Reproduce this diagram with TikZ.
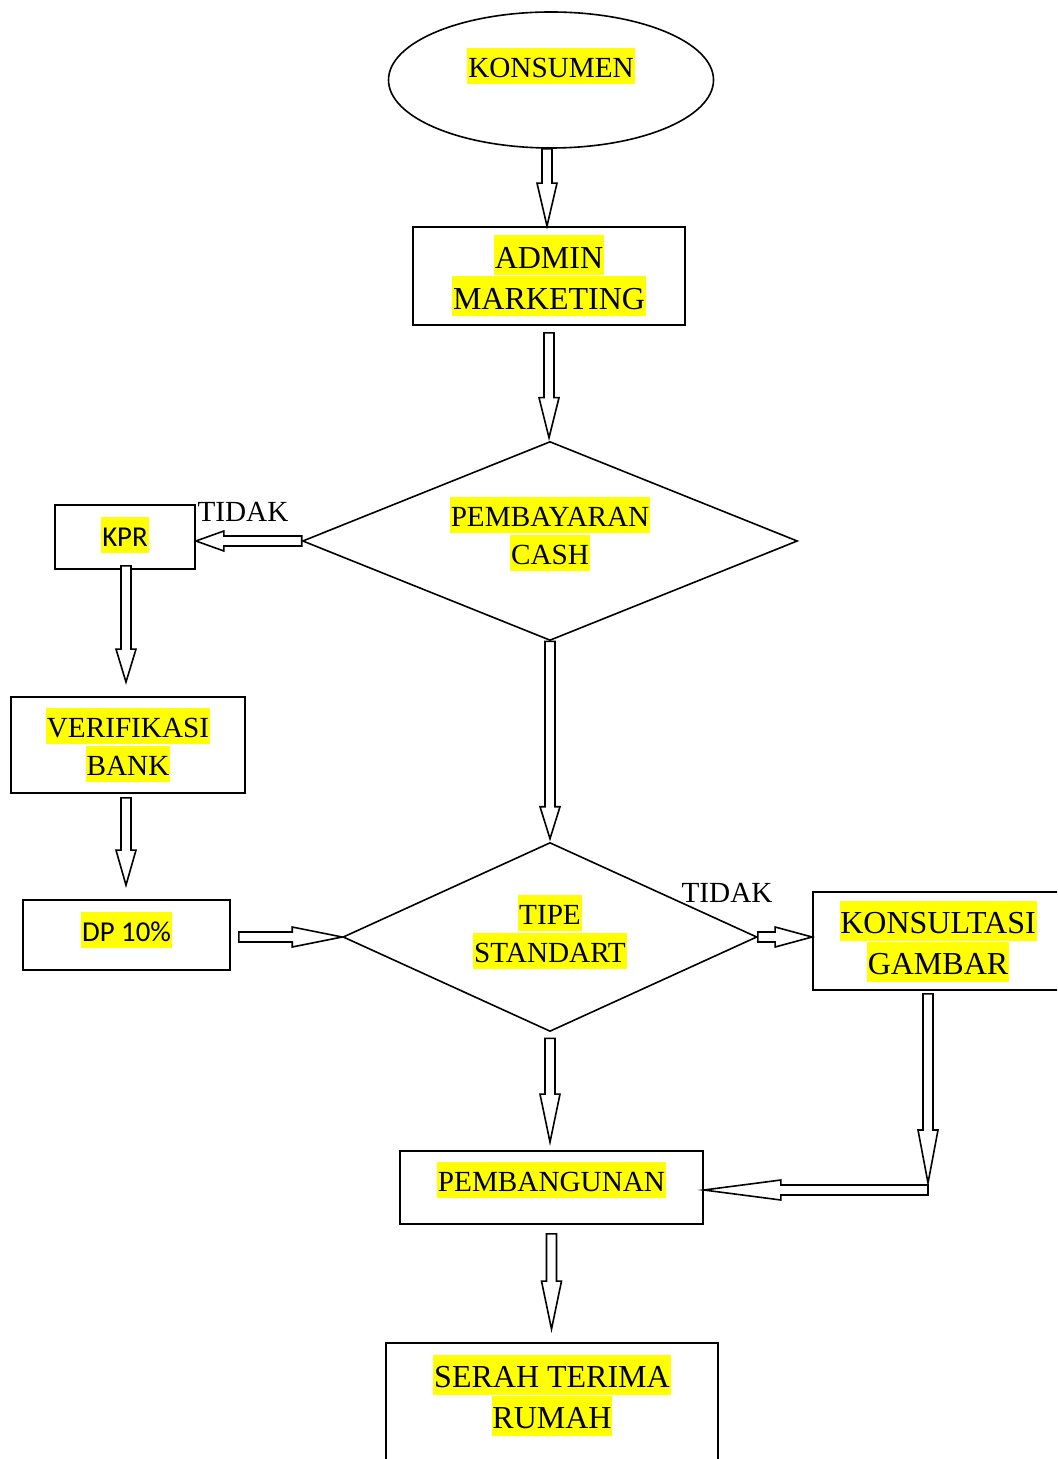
\documentclass[tikz,border=0pt]{standalone}
\usepackage{fontspec}
\setmainfont{Liberation Serif}
\newfontfamily\calibrifont{Carlito}
\usetikzlibrary{calc,shapes.geometric}
\definecolor{HiliteClr}{rgb}{1,1,0}
\setlength{\fboxsep}{0.4pt}
\newcommand{\hilite}[1]{\colorbox{HiliteClr}{\vrule width0pt height1em depth0.2em #1}}
\def\shaftw{2.5pt}
\def\headw{5pt}
\newcommand{\hollowarrow}[3][20pt]{%
  \coordinate (ha-s) at (#2);
  \coordinate (ha-e) at (#3);
  \coordinate (ha-q) at ($(ha-e)!#1!(ha-s)$);
  \draw[blockarrow] ($(ha-s)!\shaftw!90:(ha-e)$) -- ($(ha-q)!\shaftw!90:(ha-e)$)
    -- ($(ha-q)!\headw!90:(ha-e)$) -- (ha-e) -- ($(ha-q)!\headw!-90:(ha-e)$)
    -- ($(ha-q)!\shaftw!-90:(ha-e)$) -- ($(ha-s)!\shaftw!-90:(ha-e)$) -- cycle;}

\begin{document}
\begin{tikzpicture}[x=0.5pt,y=-0.5pt,
  startshape/.style={ellipse,draw,line width=0.8pt,inner sep=0pt},
  procbox/.style={rectangle,draw,line width=0.9pt,inner sep=0pt,align=center},
  decision/.style={diamond,draw,line width=0.8pt,inner sep=0pt,align=center},
  bigtxt/.style={font=\fontsize{16}{20.5}\selectfont},
  midtxt/.style={font=\fontsize{14.6}{19}\selectfont},
  sanstxt/.style={font=\calibrifont\fontsize{14.4}{18}\selectfont},
  blockarrow/.style={draw,line width=0.8pt,fill=white,line join=miter}]
\useasboundingbox (0,0) rectangle (1057,1459);
\clip (0,0) rectangle (1057,1459);

\node[startshape,midtxt,minimum width=162.5pt,minimum height=68pt,text depth=17.3pt] (kons) at (551,80) {\hilite{KONSUMEN}};
\node[procbox,bigtxt,minimum width=136pt,minimum height=49pt] (admin) at (549,276) {\hilite{ADMIN}\\\hilite{MARKETING}};
\node[decision,midtxt,aspect=2.5,minimum width=247.5pt,minimum height=99.5pt,text depth=10.3pt] (pay) at (550,541) {\hilite{PEMBAYARAN}\\\hilite{CASH}};
\node[procbox,sanstxt,minimum width=70pt,minimum height=32pt,text depth=5pt] (kpr) at (125,537) {\hilite{KPR}};
\node[procbox,midtxt,minimum width=117pt,minimum height=48pt] (verif) at (128,745) {\hilite{VERIFIKASI}\\\hilite{BANK}};
\node[procbox,sanstxt,minimum width=103.5pt,minimum height=35pt,text depth=8.3pt] (dp) at (126.5,935) {\hilite{DP 10\%}};
\node[decision,midtxt,aspect=2.2,minimum width=207pt,minimum height=94.5pt,text depth=8.3pt] (tipe) at (550,937) {\hilite{TIPE}\\\hilite{STANDART}};
\node[procbox,bigtxt,minimum width=125pt,minimum height=49pt] (konsul) at (938,941) {\hilite{KONSULTASI}\\\hilite{GAMBAR}};
\node[procbox,midtxt,minimum width=151.5pt,minimum height=36.5pt,text depth=10.8pt] (pemb) at (551.5,1187.5) {\hilite{PEMBANGUNAN}};
\node[procbox,bigtxt,minimum width=166pt,minimum height=68.5pt,text depth=20.1pt] (serah) at (552,1411.5) {\hilite{SERAH TERIMA}\\\hilite{RUMAH}};
\node[midtxt,inner sep=0pt] (tidak1) at (243,512) {TIDAK};
\node[midtxt,inner sep=0pt] (tidak2) at (727,893) {TIDAK};

\hollowarrow[21.5pt]{$(kons.south)+(-4,0)$}{$(kons.south |- admin.north)+(-4,0)$}
\hollowarrow[20pt]{$(admin.south)+(0,7)$}{$(admin.south |- pay.north)+(0,-3)$}
\hollowarrow[14pt]{pay.west}{kpr.east |- pay.west}
\hollowarrow[16.5pt]{$(kpr.south)+(1,-4)$}{$(kpr.south |- verif.north)+(1,-14)$}
\hollowarrow[17.5pt]{$(verif.south)+(-2,4)$}{$(verif.south |- dp.north)+(-2,-14)$}
\hollowarrow[25pt]{$(tipe.west -| dp.east)+(8,0)$}{tipe.west}
\hollowarrow[16pt]{pay.south}{$(tipe.north)+(0,-3)$}
\hollowarrow[18.5pt]{tipe.east}{konsul.west |- tipe.east}
\coordinate (turn) at (928,1190);
\hollowarrow[26.5pt]{$(turn |- konsul.south)+(0,3)$}{$(turn)+(0,-7)$}
\hollowarrow[38.5pt]{turn}{pemb.east |- turn}
\hollowarrow[24pt]{$(tipe.south)+(0,6)$}{$(tipe.south |- pemb.north)+(0,-8)$}
\hollowarrow[24pt]{$(pemb.south)+(0,9)$}{$(pemb.south |- serah.north)+(0,-13)$}

\end{tikzpicture}
\end{document}
